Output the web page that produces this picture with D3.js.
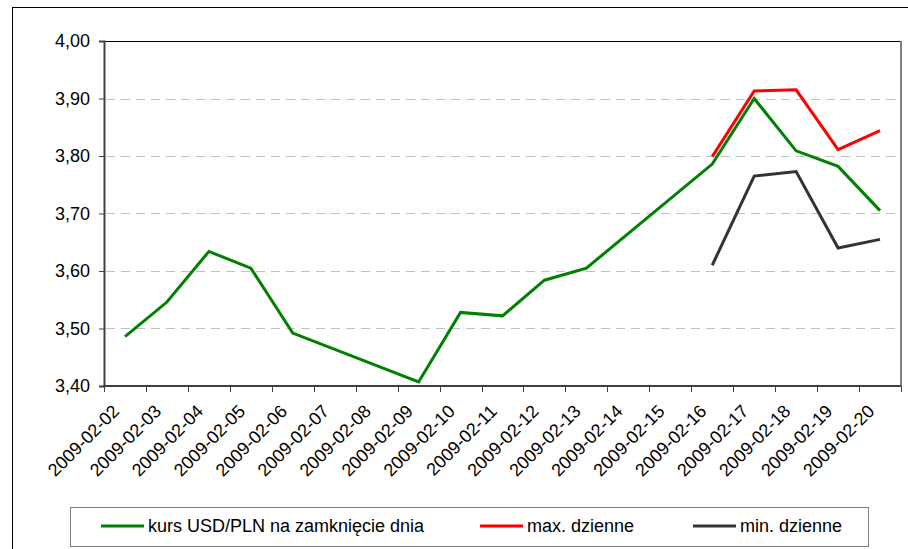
<!DOCTYPE html>
<html><head><meta charset="utf-8">
<script src="https://cdn.jsdelivr.net/npm/d3@7"></script>
<style>body{margin:0;background:#fff}svg{display:block;font-family:"Liberation Sans",Arial,sans-serif}</style>
</head><body><svg id="c" width="908" height="549"></svg>
<script>
const categories = ["2009-02-02","2009-02-03","2009-02-04","2009-02-05","2009-02-06","2009-02-07","2009-02-08","2009-02-09","2009-02-10","2009-02-11","2009-02-12","2009-02-13","2009-02-14","2009-02-15","2009-02-16","2009-02-17","2009-02-18","2009-02-19","2009-02-20"];
const closeValues = [3.486,3.546,3.634,3.605,3.492,null,null,3.407,3.528,3.522,3.584,3.605,null,null,3.786,3.900,3.809,3.782,3.705];
const maxValues = [null,null,null,null,null,null,null,null,null,null,null,null,null,null,3.799,3.913,3.915,3.811,3.844];
const minValues = [null,null,null,null,null,null,null,null,null,null,null,null,null,null,3.610,3.765,3.773,3.640,3.655];
const yTicks = [3.40,3.50,3.60,3.70,3.80,3.90,4.00];
const seriesNames = ["kurs USD/PLN na zamknięcie dnia","max. dzienne","min. dzienne"];
const seriesColors = ["#008000","#ff0000","#333333"];

const svg = d3.select("#c");
const L = 104, R = 901, T = 41, B = 386;
const x = d3.scaleBand().domain(categories).range([L, R]);
const y = d3.scaleLinear().domain([3.4, 4.0]).range([B, T]);
const fmt = v => v.toFixed(2).replace(".", ",");

// outer frame
svg.append("rect").attr("x",12.5).attr("y",7.5).attr("width",1000).attr("height",1000)
  .attr("fill","none").attr("stroke","#000").attr("stroke-width",1);

// gridlines
svg.append("g").selectAll("line").data(yTicks.filter(v => v > 3.41 && v < 3.99)).join("line")
  .attr("x1", L+2).attr("x2", R-2).attr("y1", d => Math.round(y(d))+0.5).attr("y2", d => Math.round(y(d))+0.5)
  .attr("stroke","#c0c0c0").attr("stroke-width",1).attr("stroke-dasharray","9,6");

// plot border top/right
svg.append("line").attr("x1",L).attr("x2",R).attr("y1",T+0.5).attr("y2",T+0.5).attr("stroke","#000").attr("stroke-width",1);
svg.append("line").attr("x1",R).attr("x2",R).attr("y1",T).attr("y2",B).attr("stroke","#808080").attr("stroke-width",2);

// y axis
const yAxis = d3.axisLeft(y).tickValues(yTicks).tickFormat(fmt).tickSize(5).tickPadding(9);
const gy = svg.append("g").attr("transform",`translate(${L},0)`).call(yAxis);
gy.select(".domain").attr("stroke","#404040").attr("stroke-width",2);
gy.selectAll(".tick line").attr("stroke","#404040");
gy.selectAll(".tick text").attr("font-size",18).attr("fill","#000").attr("font-family","Liberation Sans, Arial, sans-serif");

// x axis (ticks between categories)
const gx = svg.append("g");
gx.append("line").attr("x1",L-1).attr("x2",R).attr("y1",B).attr("y2",B).attr("stroke","#404040").attr("stroke-width",2);
const bounds = categories.map(c => x(c)).concat([R]);
gx.selectAll("line.t").data(bounds).join("line").attr("class","t")
  .attr("x1", d => Math.round(d)+0.5).attr("x2", d => Math.round(d)+0.5).attr("y1",B).attr("y2",B+6)
  .attr("stroke","#404040").attr("stroke-width",1);
gx.selectAll("text").data(categories).join("text")
  .attr("transform", d => `translate(${x(d)+x.bandwidth()/2-9},${B+22}) rotate(-45)`)
  .attr("text-anchor","end").attr("dy","0.35em").attr("font-size",18).attr("fill","#000")
  .text(d => d);

// lines
const line = d3.line().x(d => x(d.c)+x.bandwidth()/2).y(d => y(d.v));
[closeValues, maxValues, minValues].forEach((vals, i) => {
  const pts = categories.map((c, j) => ({c, v: vals[j]})).filter(d => d.v != null);
  svg.append("path").datum(pts).attr("d", line).attr("fill","none")
    .attr("stroke", seriesColors[i]).attr("stroke-width",3).attr("stroke-linejoin","miter");
});

// legend
svg.append("rect").attr("x",70.5).attr("y",507.5).attr("width",798).attr("height",39)
  .attr("fill","#fff").attr("stroke","#808080").attr("stroke-width",1);
const legendX = [101, 480, 693];
seriesNames.forEach((n, i) => {
  svg.append("line").attr("x1",legendX[i]).attr("x2",legendX[i]+43).attr("y1",526).attr("y2",526)
    .attr("stroke",seriesColors[i]).attr("stroke-width",3);
  svg.append("text").attr("x",legendX[i]+47).attr("y",526).attr("dy","0.35em").attr("font-size",18).attr("fill","#000").text(n);
});
</script></body></html>
